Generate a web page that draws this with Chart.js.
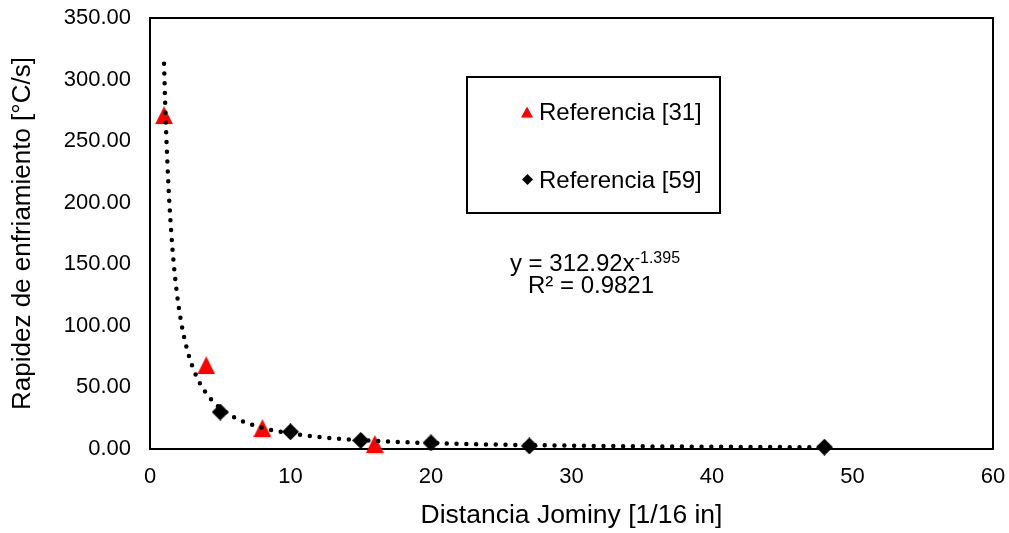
<!DOCTYPE html>
<html>
<head>
<meta charset="utf-8">
<script src="https://cdn.jsdelivr.net/npm/chart.js@4/dist/chart.umd.min.js"></script>
<style>
  html, body { margin: 0; padding: 0; background: #fff; }
  #wrap { width: 1009px; height: 533px; }
</style>
</head>
<body>
<div id="wrap"><canvas id="grafico" width="1009" height="533"></canvas></div>
<script>
// Datos
const ref31X = [1, 4, 8, 16];
const ref31Y = [271, 68, 17, 4];

const ref59X = [5, 10, 15, 20, 27, 48];
const ref59Y = [30, 14, 7, 5, 2.5, 1.5];

// Línea de tendencia potencial (ecuación mostrada en el gráfico)
const TREND_A = 312.92;
const TREND_B = -1.395;
const TREND_X_MIN = 1;
const TREND_X_MAX = 48;

const xTicks = [0, 10, 20, 30, 40, 50, 60];
const yTicks = [0, 50, 100, 150, 200, 250, 300, 350];

const FONT = "'Liberation Sans', Arial, sans-serif";

// Puntos de la curva de tendencia
const trendData = [];
for (let i = 0; i <= 400; i++) {
    const t = i / 400;
    const x = TREND_X_MIN + (TREND_X_MAX - TREND_X_MIN) * t * t;
    trendData.push({ x: x, y: TREND_A * Math.pow(x, TREND_B) });
}

// Marcadores como imágenes (triángulo rojo, rombo negro)
function makeTriangle(w, h, color) {
    const c = document.createElement('canvas');
    c.width = w; c.height = h;
    const g = c.getContext('2d');
    g.fillStyle = color;
    g.beginPath();
    g.moveTo(w / 2, 0);
    g.lineTo(w, h);
    g.lineTo(0, h);
    g.closePath();
    g.fill();
    return c;
}
function makeDiamond(s, color) {
    const c = document.createElement('canvas');
    c.width = s; c.height = s;
    const g = c.getContext('2d');
    g.fillStyle = color;
    g.beginPath();
    g.moveTo(s / 2, 0);
    g.lineTo(s, s / 2);
    g.lineTo(s / 2, s);
    g.lineTo(0, s / 2);
    g.closePath();
    g.fill();
    return c;
}

const triangulo = makeTriangle(18, 18, '#ff0000');
const rombo = makeDiamond(17, '#000000');

// Borde del área de trazado, leyenda y ecuación
const dibujoExtra = {
    id: 'dibujoExtra',
    beforeDatasetsDraw(chart) {
        const a = chart.chartArea;
        const ctx = chart.ctx;
        ctx.save();
        ctx.strokeStyle = '#000';
        ctx.lineWidth = 2;
        ctx.strokeRect(a.left, a.top, a.right - a.left, a.bottom - a.top);
        ctx.restore();
    },
    afterDraw(chart) {
        const ctx = chart.ctx;
        ctx.save();

        // Caja de leyenda
        ctx.fillStyle = '#fff';
        ctx.fillRect(467, 77, 253, 136);
        ctx.strokeStyle = '#000';
        ctx.lineWidth = 2;
        ctx.strokeRect(467, 77, 253, 136);

        // Marcador triángulo
        ctx.fillStyle = '#ff0000';
        ctx.beginPath();
        ctx.moveTo(527, 106.5);
        ctx.lineTo(533, 117.5);
        ctx.lineTo(521, 117.5);
        ctx.closePath();
        ctx.fill();

        // Marcador rombo
        ctx.fillStyle = '#000';
        ctx.beginPath();
        ctx.moveTo(527.5, 174);
        ctx.lineTo(533, 179.5);
        ctx.lineTo(527.5, 185);
        ctx.lineTo(522, 179.5);
        ctx.closePath();
        ctx.fill();

        ctx.fillStyle = '#000';
        ctx.font = '24px ' + FONT;
        ctx.textBaseline = 'alphabetic';
        ctx.textAlign = 'left';
        ctx.fillText('Referencia [31]', 539, 120);
        ctx.fillText('Referencia [59]', 539, 188);

        // Ecuación de la tendencia
        const base = 'y = ' + TREND_A.toFixed(2) + 'x';
        const sup = String(TREND_B);
        ctx.font = '24px ' + FONT;
        const wBase = ctx.measureText(base).width;
        ctx.font = '16px ' + FONT;
        const wSup = ctx.measureText(sup).width;
        const x0 = 595 - (wBase + wSup) / 2;
        ctx.font = '24px ' + FONT;
        ctx.fillText(base, x0, 271);
        ctx.font = '16px ' + FONT;
        ctx.fillText(sup, x0 + wBase, 263);

        ctx.font = '24px ' + FONT;
        ctx.textAlign = 'center';
        ctx.fillText('R\u00b2 = 0.9821', 591, 293);

        ctx.restore();
    }
};

const ctx = document.getElementById('grafico').getContext('2d');

new Chart(ctx, {
    type: 'scatter',
    data: {
        datasets: [
            {
                label: 'Tendencia',
                data: trendData,
                showLine: true,
                borderColor: '#000',
                borderWidth: 4.5,
                borderDash: [0, 9.8],
                borderCapStyle: 'round',
                pointRadius: 0,
                fill: false,
                clip: false,
                order: 0
            },
            {
                label: 'Referencia [31]',
                data: ref31X.map((x, i) => ({ x: x, y: ref31Y[i] })),
                pointStyle: triangulo,
                pointRadius: 9,
                showLine: false,
                clip: false,
                order: 1
            },
            {
                label: 'Referencia [59]',
                data: ref59X.map((x, i) => ({ x: x, y: ref59Y[i] })),
                pointStyle: rombo,
                pointRadius: 9,
                showLine: false,
                clip: false,
                order: 2
            }
        ]
    },
    options: {
        responsive: false,
        animation: false,
        devicePixelRatio: 1,
        layout: { padding: { top: 18, right: 16, left: 0, bottom: 0 } },
        plugins: {
            legend: { display: false },
            tooltip: { enabled: false }
        },
        scales: {
            x: {
                type: 'linear',
                min: 0,
                max: 60,
                afterBuildTicks: (s) => { s.ticks = xTicks.map(v => ({ value: v })); },
                afterFit: (s) => { s.height = 84; s.paddingLeft = 0; s.paddingRight = 0; },
                grid: { display: false, drawTicks: false },
                border: { display: false },
                ticks: {
                    padding: 15,
                    color: '#000',
                    font: { family: FONT, size: 22 },
                    maxRotation: 0
                },
                title: {
                    display: true,
                    text: 'Distancia Jominy [1/16 in]',
                    color: '#000',
                    font: { family: FONT, size: 26.5 },
                    padding: { top: 0, bottom: 1 }
                }
            },
            y: {
                type: 'linear',
                min: 0,
                max: 350,
                afterBuildTicks: (s) => { s.ticks = yTicks.map(v => ({ value: v })); },
                afterFit: (s) => { s.width = 150; s.paddingTop = 0; s.paddingBottom = 0; },
                grid: { display: false, drawTicks: false },
                border: { display: false },
                ticks: {
                    padding: 19,
                    color: '#000',
                    font: { family: FONT, size: 22 },
                    callback: (v) => Number(v).toFixed(2)
                },
                title: {
                    display: true,
                    text: 'Rapidez de enfriamiento [°C/s]',
                    color: '#000',
                    font: { family: FONT, size: 26 },
                    padding: { top: 7, bottom: 0 }
                }
            }
        }
    },
    plugins: [dibujoExtra]
});
</script>
</body>
</html>
